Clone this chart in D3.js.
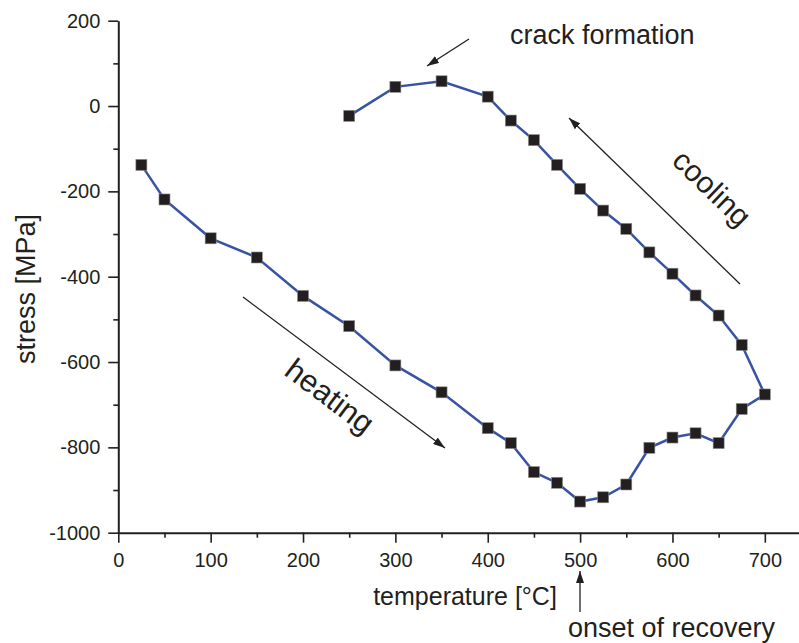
<!DOCTYPE html>
<html>
<head>
<meta charset="utf-8">
<script src="https://cdn.jsdelivr.net/npm/d3@7/dist/d3.min.js"></script>
<style>
  html, body { margin: 0; padding: 0; background: #fff; }
  svg { display: block; font-family: "Liberation Sans", Arial, Helvetica, sans-serif; }
</style>
</head>
<body>
<svg id="chart" width="799" height="643"></svg>
<script>
// Stress evolution during a heating / cooling cycle
const heatTemp   = [25, 50, 100, 150, 200, 250, 300, 350, 400, 425, 450, 475, 500, 525, 550, 575, 600, 625, 650, 675, 700];
const heatStress = [-138, -219, -310, -355, -445, -516, -608, -671, -755, -790, -858, -883, -927, -917, -887, -801, -777, -767, -790, -710, -676];
const coolTemp   = [675, 650, 625, 600, 575, 550, 525, 500, 475, 450, 425, 400, 350, 300, 250];
const coolStress = [-560, -491, -444, -393, -343, -288, -245, -194, -138, -80, -34, 22, 58, 45, -23];

const xMajor = [0, 100, 200, 300, 400, 500, 600, 700];
const xMinor = [50, 150, 250, 350, 450, 550, 650];
const yMajor = [200, 0, -200, -400, -600, -800, -1000];
const yMinor = [100, -100, -300, -500, -700, -900];

const ink = "#231f20";
const svg = d3.select("#chart");

const x = d3.scaleLinear().domain([0, 737]).range([118.3, 799]);
const y = d3.scaleLinear().domain([-1000, 200]).range([532.7, 20.7]);

// arrowhead marker
svg.append("defs").append("marker")
  .attr("id", "head")
  .attr("viewBox", "0 0 12 8")
  .attr("refX", 12).attr("refY", 4)
  .attr("markerWidth", 12).attr("markerHeight", 8)
  .attr("markerUnits", "userSpaceOnUse")
  .attr("orient", "auto")
  .append("path").attr("d", "M0,0 L12,4 L0,8 Z").attr("fill", ink);

// plain hyphen for negative tick labels
const fmt = d => String(d);

function styleAxis(g) {
  g.selectAll("path.domain").attr("stroke", ink).attr("stroke-width", 2);
  g.selectAll(".tick line").attr("stroke", ink).attr("stroke-width", 1.6);
  g.selectAll(".tick text").attr("fill", ink).attr("font-size", 20)
    .attr("font-family", "Liberation Sans, Arial, sans-serif");
}

const gx = svg.append("g").attr("transform", `translate(0,${y(-1000)})`)
  .call(d3.axisBottom(x).tickValues(xMajor).tickSize(10).tickSizeOuter(0).tickPadding(10).tickFormat(fmt));
styleAxis(gx);
const gxm = svg.append("g").attr("transform", `translate(0,${y(-1000)})`)
  .call(d3.axisBottom(x).tickValues(xMinor).tickSize(5).tickSizeOuter(0).tickFormat(""));
gxm.select("path.domain").remove();
styleAxis(gxm);

const gy = svg.append("g").attr("transform", `translate(${x(0)},0)`)
  .call(d3.axisLeft(y).tickValues(yMajor).tickSize(10).tickSizeOuter(0).tickPadding(8).tickFormat(fmt));
styleAxis(gy);
const gym = svg.append("g").attr("transform", `translate(${x(0)},0)`)
  .call(d3.axisLeft(y).tickValues(yMinor).tickSize(5).tickSizeOuter(0).tickFormat(""));
gym.select("path.domain").remove();
styleAxis(gym);

// data path: heating branch followed by the cooling branch
const pts = heatTemp.map((t, i) => [t, heatStress[i]])
  .concat(coolTemp.map((t, i) => [t, coolStress[i]]));

svg.append("path")
  .datum(pts)
  .attr("fill", "none")
  .attr("stroke", "#3953a4")
  .attr("stroke-width", 2.5)
  .attr("d", d3.line().x(d => x(d[0])).y(d => y(d[1])));

const ms = 11;
svg.append("g").selectAll("rect")
  .data(pts)
  .join("rect")
  .attr("x", d => x(d[0]) - ms / 2)
  .attr("y", d => y(d[1]) - ms / 2)
  .attr("width", ms).attr("height", ms)
  .attr("fill", ink)
  .attr("stroke", "#8a8a8a")
  .attr("stroke-width", 0.6);

// axis titles
svg.append("text")
  .attr("x", 465).attr("y", 605)
  .attr("text-anchor", "middle")
  .attr("font-size", 25).attr("fill", ink)
  .text("temperature [°C]");

svg.append("text")
  .attr("transform", "translate(35,289) rotate(-90)")
  .attr("text-anchor", "middle")
  .attr("font-size", 27).attr("fill", ink)
  .text("stress [MPa]");

// annotations
function arrow(x1, y1, x2, y2) {
  svg.append("line")
    .attr("x1", x1).attr("y1", y1).attr("x2", x2).attr("y2", y2)
    .attr("stroke", ink).attr("stroke-width", 1.3)
    .attr("marker-end", "url(#head)");
}

arrow(469, 39, 427, 66);
svg.append("text").attr("x", 510).attr("y", 44)
  .attr("font-size", 27).attr("fill", ink).text("crack formation");

arrow(740, 284, 569, 118);
svg.append("text")
  .attr("transform", "translate(712,188) rotate(44)")
  .attr("text-anchor", "middle").attr("dy", "0.35em")
  .attr("font-size", 30).attr("fill", ink).text("cooling");

arrow(243, 297, 445, 448);
svg.append("text")
  .attr("transform", "translate(330,396) rotate(37)")
  .attr("text-anchor", "middle").attr("dy", "0.35em")
  .attr("font-size", 31).attr("fill", ink).text("heating");

arrow(580, 612, 580, 571);
svg.append("text").attr("x", 568).attr("y", 637)
  .attr("font-size", 27).attr("fill", ink).text("onset of recovery");
</script>
</body>
</html>
